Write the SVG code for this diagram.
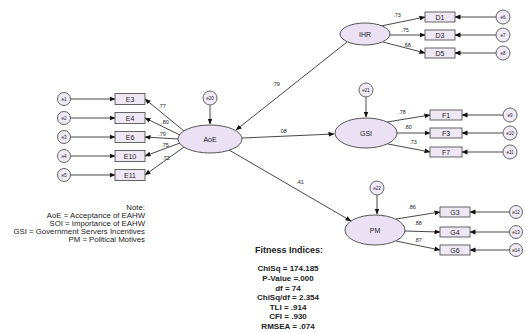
<svg xmlns="http://www.w3.org/2000/svg" width="526" height="332" viewBox="0 0 526 332">
<style>
text{font-family:"Liberation Sans",Arial,sans-serif;fill:#222}
.lat{fill:#ebe1f4;stroke:#555;stroke-width:1}
.box{fill:#eee8f5;stroke:#555;stroke-width:0.9}
.err{fill:#efeaf6;stroke:#555;stroke-width:0.9}
.ln{stroke:#333;stroke-width:0.9;fill:none;marker-end:url(#ah)}
.tl{font-size:7px;text-anchor:middle}
.tb{font-size:7px;text-anchor:middle}
.te{font-size:4.5px;text-anchor:middle}
.tc{font-size:5.5px;text-anchor:middle}
.note{font-size:7.8px;text-anchor:end}
.fit{font-size:8px;font-weight:bold;text-anchor:middle}
.fitt{font-size:9px;font-weight:bold;text-anchor:middle}
</style>
<defs>
<marker id="ah" markerWidth="6" markerHeight="6" refX="5.5" refY="3" orient="auto" markerUnits="userSpaceOnUse">
<path d="M0,0.6 L6,3 L0,5.4 z" fill="#111"/>
</marker>
</defs>
<g id="connectors">
<line class="ln" x1="210" y1="105" x2="210" y2="124"/>
<line class="ln" x1="366" y1="97" x2="366" y2="117"/>
<line class="ln" x1="377" y1="195" x2="377" y2="214"/>
<line class="ln" x1="347" y1="42" x2="236" y2="130"/>
<line class="ln" x1="242" y1="138" x2="334" y2="134"/>
<line class="ln" x1="229" y1="150" x2="351" y2="221"/>
<line class="ln" x1="184" y1="131" x2="145" y2="99"/>
<line class="ln" x1="180" y1="135" x2="145" y2="118"/>
<line class="ln" x1="178" y1="139" x2="145" y2="137"/>
<line class="ln" x1="180" y1="143" x2="145" y2="156"/>
<line class="ln" x1="184" y1="147" x2="145" y2="175"/>
<line class="ln" x1="70.5" y1="99" x2="115" y2="99"/>
<line class="ln" x1="70.5" y1="118" x2="115" y2="118"/>
<line class="ln" x1="70.5" y1="137" x2="115" y2="137"/>
<line class="ln" x1="70.5" y1="156" x2="115" y2="156"/>
<line class="ln" x1="70.5" y1="175" x2="115" y2="175"/>
<line class="ln" x1="381" y1="26" x2="425" y2="17"/>
<line class="ln" x1="390" y1="35" x2="425" y2="35"/>
<line class="ln" x1="383" y1="42" x2="425" y2="53"/>
<line class="ln" x1="496" y1="17" x2="455" y2="17"/>
<line class="ln" x1="496" y1="35" x2="455" y2="35"/>
<line class="ln" x1="496" y1="53" x2="455" y2="53"/>
<line class="ln" x1="387" y1="122" x2="430" y2="115"/>
<line class="ln" x1="397" y1="133" x2="430" y2="133"/>
<line class="ln" x1="388" y1="144" x2="430" y2="152"/>
<line class="ln" x1="503" y1="115" x2="462" y2="115"/>
<line class="ln" x1="503" y1="133" x2="462" y2="133"/>
<line class="ln" x1="503" y1="152" x2="462" y2="152"/>
<line class="ln" x1="396" y1="219" x2="440" y2="212"/>
<line class="ln" x1="405" y1="231" x2="440" y2="232"/>
<line class="ln" x1="396" y1="241" x2="440" y2="250"/>
<line class="ln" x1="509.5" y1="212" x2="470" y2="212"/>
<line class="ln" x1="509.5" y1="232" x2="470" y2="232"/>
<line class="ln" x1="509.5" y1="250" x2="470" y2="250"/>
<text class="tc" x="276" y="86">.79</text>
<text class="tc" x="283" y="133">.08</text>
<text class="tc" x="300" y="184">.41</text>
<text class="tc" x="162" y="108">.77</text>
<text class="tc" x="165" y="124">.80</text>
<text class="tc" x="162" y="136">.79</text>
<text class="tc" x="165" y="147">.75</text>
<text class="tc" x="166" y="160">.72</text>
<text class="tc" x="397" y="17">.73</text>
<text class="tc" x="405" y="32">.75</text>
<text class="tc" x="407" y="47">.68</text>
<text class="tc" x="402" y="114">.78</text>
<text class="tc" x="408" y="129">.80</text>
<text class="tc" x="413" y="144">.73</text>
<text class="tc" x="412" y="209">.86</text>
<text class="tc" x="418" y="225">.88</text>
<text class="tc" x="418" y="242">.87</text>
</g>
<g id="AoE"><ellipse class="lat" cx="210" cy="139" rx="32" ry="14"/><text class="tl" x="210" y="141.5">AoE</text></g>
<g id="IHR"><ellipse class="lat" cx="365" cy="34" rx="25" ry="11"/><text class="tl" x="365" y="36.5">IHR</text></g>
<g id="GSI"><ellipse class="lat" cx="366" cy="133" rx="31" ry="15"/><text class="tl" x="366" y="135.5">GSI</text></g>
<g id="PM"><ellipse class="lat" cx="375" cy="230" rx="30" ry="15"/><text class="tl" x="375" y="232.5">PM</text></g>
<g id="e20"><circle class="err" cx="210" cy="98" r="7"/><text class="te" x="210" y="99.6">e20</text></g>
<g id="e21"><circle class="err" cx="366" cy="90" r="7"/><text class="te" x="366" y="91.6">e21</text></g>
<g id="e22"><circle class="err" cx="377" cy="188" r="7"/><text class="te" x="377" y="189.6">e22</text></g>
<g id="E3"><rect class="box" x="115" y="93.5" width="30" height="11"/><text class="tb" x="130" y="101.5">E3</text></g>
<g id="E4"><rect class="box" x="115" y="112.5" width="30" height="11"/><text class="tb" x="130" y="120.5">E4</text></g>
<g id="E6"><rect class="box" x="115" y="131.5" width="30" height="11"/><text class="tb" x="130" y="139.5">E6</text></g>
<g id="E10"><rect class="box" x="115" y="150.5" width="30" height="11"/><text class="tb" x="130" y="158.5">E10</text></g>
<g id="E11"><rect class="box" x="115" y="169.5" width="30" height="11"/><text class="tb" x="130" y="177.5">E11</text></g>
<g id="e1"><circle class="err" cx="64" cy="99" r="6.5"/><text class="te" x="64" y="100.6">e1</text></g>
<g id="e2"><circle class="err" cx="64" cy="118" r="6.5"/><text class="te" x="64" y="119.6">e2</text></g>
<g id="e3"><circle class="err" cx="64" cy="137" r="6.5"/><text class="te" x="64" y="138.6">e3</text></g>
<g id="e4"><circle class="err" cx="64" cy="156" r="6.5"/><text class="te" x="64" y="157.6">e4</text></g>
<g id="e5"><circle class="err" cx="64" cy="175" r="6.5"/><text class="te" x="64" y="176.6">e5</text></g>
<g id="D1"><rect class="box" x="425" y="12" width="30" height="10"/><text class="tb" x="440" y="19.5">D1</text></g>
<g id="D3"><rect class="box" x="425" y="30" width="30" height="10"/><text class="tb" x="440" y="37.5">D3</text></g>
<g id="D5"><rect class="box" x="425" y="48" width="30" height="10"/><text class="tb" x="440" y="55.5">D5</text></g>
<g id="e6"><circle class="err" cx="503" cy="17" r="7"/><text class="te" x="503" y="18.6">e6</text></g>
<g id="e7"><circle class="err" cx="503" cy="35" r="7"/><text class="te" x="503" y="36.6">e7</text></g>
<g id="e8"><circle class="err" cx="503" cy="53" r="7"/><text class="te" x="503" y="54.6">e8</text></g>
<g id="F1"><rect class="box" x="430" y="110" width="32" height="10"/><text class="tb" x="446" y="117.5">F1</text></g>
<g id="F3"><rect class="box" x="430" y="128" width="32" height="10"/><text class="tb" x="446" y="135.5">F3</text></g>
<g id="F7"><rect class="box" x="430" y="147" width="32" height="10"/><text class="tb" x="446" y="154.5">F7</text></g>
<g id="e9"><circle class="err" cx="510" cy="115" r="7"/><text class="te" x="510" y="116.6">e9</text></g>
<g id="e10"><circle class="err" cx="510" cy="133" r="7"/><text class="te" x="510" y="134.6">e10</text></g>
<g id="e11"><circle class="err" cx="510" cy="152" r="7"/><text class="te" x="510" y="153.6">e11</text></g>
<g id="G3"><rect class="box" x="440" y="207" width="30" height="10"/><text class="tb" x="455" y="214.5">G3</text></g>
<g id="G4"><rect class="box" x="440" y="227" width="30" height="10"/><text class="tb" x="455" y="234.5">G4</text></g>
<g id="G6"><rect class="box" x="440" y="245" width="30" height="10"/><text class="tb" x="455" y="252.5">G6</text></g>
<g id="e12"><circle class="err" cx="516" cy="212" r="6.5"/><text class="te" x="516" y="213.6">e12</text></g>
<g id="e13"><circle class="err" cx="516" cy="232" r="6.5"/><text class="te" x="516" y="233.6">e13</text></g>
<g id="e14"><circle class="err" cx="516" cy="250" r="6.5"/><text class="te" x="516" y="251.6">e14</text></g>
<g id="note">
<text class="note" x="145" y="210">Note:</text>
<text class="note" x="145" y="218">AoE = Acceptance of EAHW</text>
<text class="note" x="145" y="226">SOI = Importance of EAHW</text>
<text class="note" x="145" y="234">GSI = Government Servers Incentives</text>
<text class="note" x="145" y="242">PM = Political Motives</text>
</g>
<g id="fitness">
<text class="fitt" x="289" y="253">Fitness Indices:</text>
<text class="fit" x="288" y="271">ChiSq = 174.185</text>
<text class="fit" x="288" y="281">P-Value =.000</text>
<text class="fit" x="288" y="291">df = 74</text>
<text class="fit" x="288" y="300">ChiSq/df = 2.354</text>
<text class="fit" x="288" y="310">TLI = .914</text>
<text class="fit" x="288" y="319">CFI = .930</text>
<text class="fit" x="288" y="329">RMSEA = .074</text>
</g>
</svg>
